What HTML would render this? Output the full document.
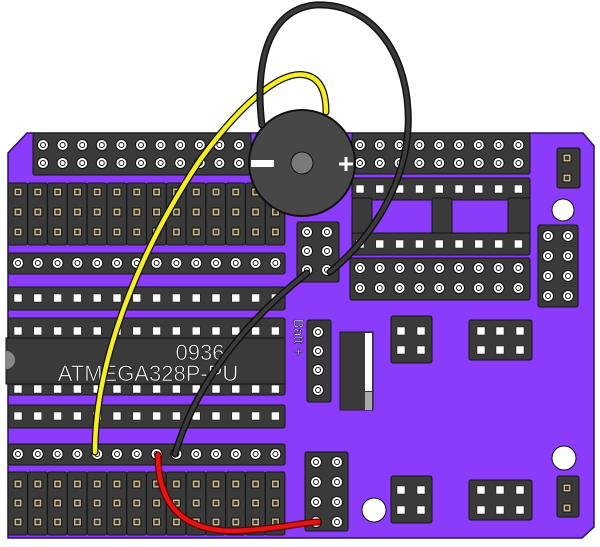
<!DOCTYPE html>
<html><head><meta charset="utf-8"><style>
html,body{margin:0;padding:0;background:#fff;width:600px;height:547px;overflow:hidden}
svg{display:block}
</style></head><body>
<svg id="s" width="600" height="547" viewBox="0 0 600 547" xmlns="http://www.w3.org/2000/svg">
<polygon points="27,133 583,133 594,146 594,527 582,538 8,538 8,153" fill="#8a3cfa" stroke="#2a1060" stroke-width="1.5"/>
<g id="g"></g>
<!-- IC -->
<rect x="6" y="338" width="279" height="46" fill="#3a3a3a" stroke="#111"/>
<path d="M6,351 a9,9 0 0 1 0,18 z" fill="#888"/>
<text x="200" y="360" font-family="Liberation Sans, sans-serif" font-size="22" fill="#fff" stroke="#111" stroke-width="0.6" text-anchor="middle">0936</text>
<text x="148" y="381" font-family="Liberation Sans, sans-serif" font-size="22" fill="#fff" stroke="#111" stroke-width="0.6" text-anchor="middle">ATMEGA328P-PU</text>
<!-- switch -->
<rect x="340" y="332" width="33" height="78" fill="#3a3a3a" stroke="#222"/>
<rect x="365" y="333" width="7" height="58" fill="#fff"/>
<rect x="365" y="392" width="7" height="18" fill="#aaa"/>
<text transform="translate(294,319) rotate(90)" font-family="Liberation Sans, sans-serif" font-size="14" fill="#fff" stroke="#111" stroke-width="0.5">Batt +</text>
<!-- holes -->
<circle cx="563" cy="210" r="11" fill="#fff" stroke="#111"/>
<circle cx="564" cy="458" r="12" fill="#fff" stroke="#111"/>
<circle cx="374" cy="510" r="12" fill="#fff" stroke="#111"/>
<!-- buzzer -->
<circle cx="302" cy="163" r="53" fill="#474747" stroke="#111" stroke-width="2"/>
<circle cx="302" cy="163" r="11" fill="#7a7a7a" stroke="#111"/>
<rect x="251" y="160" width="23" height="7" fill="#fff"/>
<path d="M339,164 h14 M346,157 v14" stroke="#fff" stroke-width="3"/>
<!-- wires -->
<g fill="none" stroke-linecap="round">
<path d="M95,452 C95,360 140,250 200,160 C240,105 280,70 305,75 C322,78 326,95 326,112" stroke="#111" stroke-width="7"/>
<path d="M95,452 C95,360 140,250 200,160 C240,105 280,70 305,75 C322,78 326,95 326,112" stroke="#f4ee22" stroke-width="4.5"/>
<path d="M262,125 C255,70 265,10 315,5 C370,2 405,50 408,110 C412,180 370,240 330,272" stroke="#111" stroke-width="7"/>
<path d="M262,125 C255,70 265,10 315,5 C370,2 405,50 408,110 C412,180 370,240 330,272" stroke="#3a3a3a" stroke-width="4"/>
<path d="M307,273 C260,310 200,370 175,454" stroke="#111" stroke-width="7"/>
<path d="M307,273 C260,310 200,370 175,454" stroke="#3a3a3a" stroke-width="4"/>
<path d="M158,455 C158,520 200,535 250,530 C290,527 305,522 318,522" stroke="#600" stroke-width="7"/>
<path d="M158,455 C158,520 200,535 250,530 C290,527 305,522 318,522" stroke="#e21515" stroke-width="4.5"/>
</g>
</svg>
<script>
var g=document.getElementById('g'),h='';
function R(x,y,w,hh){h+='<rect x="'+x+'" y="'+y+'" width="'+w+'" height="'+hh+'" rx="2" fill="#3a3a3a" stroke="#151515"/>';}
function C(x,y){h+='<circle cx="'+x+'" cy="'+y+'" r="5.5" fill="#fff" stroke="#111"/><circle cx="'+x+'" cy="'+y+'" r="2.5" fill="#fff" stroke="#111"/>';}
function S(x,y){h+='<rect x="'+(x-4)+'" y="'+(y-4)+'" width="8" height="8" fill="#fff" stroke="#111" stroke-width=".5"/>';}
function P(x,y){h+='<rect x="'+(x-4)+'" y="'+(y-4)+'" width="8" height="8" fill="#c9b78a" stroke="#111"/><rect x="'+(x-2)+'" y="'+(y-2)+'" width="4" height="4" fill="#3a3a3a"/>';}
var cols=[];for(var i=0;i<14;i++)cols.push(18+i*19.8);
R(33,133,218,42);for(i=0;i<11;i++){C(43+i*19.6,145);C(43+i*19.6,163);}
R(352,133,178,41);for(i=0;i<9;i++){C(360+i*19.8,145);C(360+i*19.8,163);}
for(i=0;i<14;i++){R(cols[i]-10,183,19.5,62);P(cols[i],192);P(cols[i],212);P(cols[i],232);}
R(8,253,277,21);cols.forEach(function(x){C(x,263)});
R(8,287,277,23);cols.forEach(function(x){S(x,298)});
R(8,318,277,77);cols.forEach(function(x){S(x,331);S(x,389)});
R(8,405,277,23);cols.forEach(function(x){S(x,416)});
R(8,444,277,21);cols.forEach(function(x){C(x,454)});
for(i=0;i<14;i++){R(cols[i]-10,472,19.5,63);P(cols[i],484);P(cols[i],503);P(cols[i],522);}
R(297,222,42,60);[232,251,270].forEach(function(y){C(307,y);C(327,y)});
R(307,320,24,82);[332,351,370,390].forEach(function(y){C(318,y)});
R(305,452,43,79);[462,482,502,522].forEach(function(y){C(316,y);C(337,y)});
R(352,178,178,22);for(i=0;i<9;i++)S(360+i*19.8,189);
R(352,198,20,38);R(432,198,20,38);R(508,198,22,38);
R(352,233,178,22);for(i=0;i<9;i++)S(360+i*19.8,244);
R(350,258,180,42);for(i=0;i<9;i++){C(360+i*19.8,268);C(360+i*19.8,288);}
R(538,225,40,82);[236,256,276,296].forEach(function(y){C(548,y);C(568,y)});
R(557,148,23,40);P(567,158);P(567,178);
R(557,476,22,41);P(567,488);P(567,508);
R(391,316,41,47);[331,350].forEach(function(y){S(401,y);S(421,y)});
R(469,320,63,40);[331,350].forEach(function(y){S(481,y);S(500,y);S(520,y)});
R(391,476,41,47);[490,510].forEach(function(y){S(401,y);S(421,y)});
R(469,480,63,40);[490,510].forEach(function(y){S(481,y);S(500,y);S(520,y)});
g.innerHTML=h;
</script>
</body></html>
